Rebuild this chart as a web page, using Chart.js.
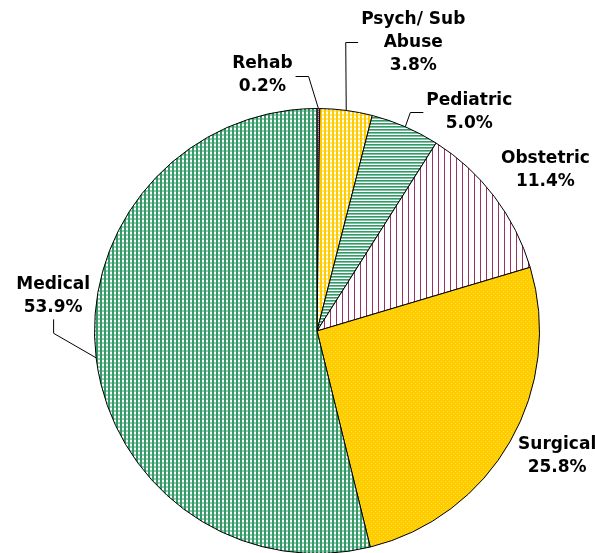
<!DOCTYPE html>
<html>
<head>
<meta charset="utf-8">
<script src="https://cdn.jsdelivr.net/npm/chart.js@4.4.1/dist/chart.umd.min.js"></script>
<style>
  html, body { margin: 0; padding: 0; background: #fff; overflow: hidden; }
  #wrap { position: relative; width: 595px; height: 560px; }
</style>
</head>
<body>
<div id="wrap"><canvas id="pie"></canvas></div>
<script>
/* ---------- Dados ---------- */
const categories = ['Rehab', 'Psych/ Sub Abuse', 'Pediatric', 'Obstetric', 'Surgical', 'Medical'];
const shares     = [0.2, 3.8, 5.0, 11.4, 25.8, 53.9];
const labelLines = [['Rehab'], ['Psych/ Sub', 'Abuse'], ['Pediatric'], ['Obstetric'], ['Surgical'], ['Medical']];

/* ---------- Rótulos: deslocamento a partir da borda da fatia ---------- */
const labelPlace = [
  { dx: -56, dy: -33, leader: 'right' },
  { dx:  67, dy: -68, leader: 'left'  },
  { dx:  64, dy: -15, leader: 'left'  },
  { dx:  51, dy: -27, leader: null    },
  { dx:  47, dy:  15, leader: null    },
  { dx: -43, dy: -62, leader: 'below' },
];

const GREEN = '#339966', GOLD = '#FFCC00', MAUVE = '#993366';

/* ---------- Padrões (hachuras estilo Excel) ---------- */
function makePattern(w, h, draw) {
  const c = document.createElement('canvas');
  c.width = w; c.height = h;
  const g = c.getContext('2d');
  draw(g);
  return g.createPattern(c, 'repeat');
}
const pPlaid = (dark, light) => makePattern(4, 4, g => {
  g.fillStyle = '#fff';  g.fillRect(0, 0, 4, 4);
  g.fillStyle = light;   g.fillRect(0, 2, 4, 2);
  g.fillStyle = dark;    g.fillRect(0, 0, 2, 4);
});
const patterns = [
  makePattern(2, 2, g => { g.fillStyle = '#cc99bb'; g.fillRect(0, 0, 2, 2); g.fillStyle = MAUVE; g.fillRect(0, 0, 1, 1); }),
  pPlaid(GOLD, '#FFE680'),
  makePattern(1, 3, g => {
    g.fillStyle = '#fff'; g.fillRect(0, 0, 1, 3);
    g.fillStyle = GREEN;  g.fillRect(0, 0, 1, 1);
    g.fillStyle = '#7cc2a0'; g.fillRect(0, 1, 1, 1);
  }),
  makePattern(6, 1, g => { g.fillStyle = '#fff'; g.fillRect(0, 0, 6, 1); g.fillStyle = MAUVE; g.fillRect(0, 0, 1, 1); }),
  makePattern(4, 4, g => {
    g.fillStyle = GOLD; g.fillRect(0, 0, 4, 4);
    g.fillStyle = '#FFDD44'; g.fillRect(1, 1, 1, 1); g.fillRect(3, 3, 1, 1);
  }),
  pPlaid(GREEN, '#8fcfae'),
];

/* ---------- Plugin de rótulos ---------- */
const FONT = 'bold 17px "DejaVu Sans", Verdana, sans-serif';
const LINE_H = 23;

const pieLabels = {
  id: 'pieLabels',
  afterDatasetsDraw(chart) {
    const ctx = chart.ctx;
    const arcs = chart.getDatasetMeta(0).data;
    ctx.save();
    ctx.font = FONT;
    ctx.fillStyle = '#000';
    ctx.textAlign = 'center';
    ctx.textBaseline = 'middle';
    arcs.forEach((arc, i) => {
      const mid = (arc.startAngle + arc.endAngle) / 2;
      const ex = arc.x + Math.cos(mid) * arc.outerRadius;
      const ey = arc.y + Math.sin(mid) * arc.outerRadius;
      const pl = labelPlace[i];
      const cx = ex + pl.dx, cy = ey + pl.dy;
      const lines = labelLines[i].concat([shares[i].toFixed(1) + '%']);
      const top = cy - (lines.length - 1) * LINE_H / 2;
      const maxW = Math.max(...lines.map(s => ctx.measureText(s).width));
      lines.forEach((s, k) => ctx.fillText(s, cx, top + k * LINE_H));

      if (!pl.leader) return;
      ctx.beginPath();
      ctx.strokeStyle = '#000';
      ctx.lineWidth = 1;
      if (pl.leader === 'below') {
        const sy = top + (lines.length - 1) * LINE_H + 12;
        ctx.moveTo(cx + 0.5, sy);
        ctx.lineTo(cx + 0.5, sy + 14);
      } else {
        const dir = pl.leader === 'right' ? 1 : -1;
        const sx = cx + dir * (maxW / 2 + 3);
        const y = Math.round(cy) + 0.5;
        ctx.moveTo(sx, y);
        ctx.lineTo(pl.leader === 'left' && i === 1 ? ex - 0.5 : sx + dir * 13, y);
      }
      ctx.lineTo(ex, ey);
      ctx.stroke();
    });
    ctx.restore();
  }
};

/* ---------- Gráfico ---------- */
new Chart(document.getElementById('pie'), {
  type: 'pie',
  data: {
    labels: categories,
    datasets: [{
      data: shares,
      backgroundColor: patterns,
      borderColor: '#000',
      borderWidth: 1,
      borderJoinStyle: 'miter',
      hoverOffset: 0,
    }],
  },
  options: {
    responsive: true,
    maintainAspectRatio: false,
    animation: false,
    events: [],
    layout: { padding: { left: 94, right: 55, top: 108, bottom: 6 } },
    plugins: {
      legend: { display: false },
      tooltip: { enabled: false },
    },
  },
  plugins: [pieLabels],
});
</script>
</body>
</html>
